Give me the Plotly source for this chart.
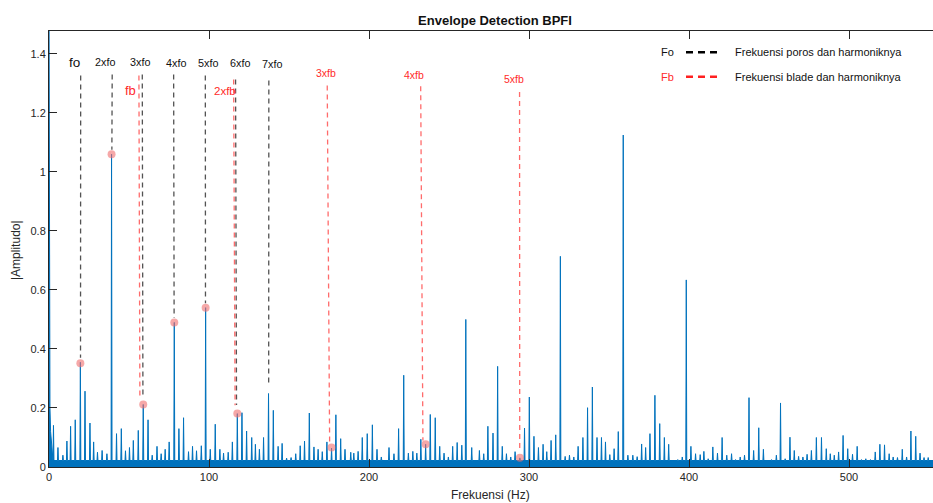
import plotly.graph_objects as go

# ---------------- data ----------------
low_freq = [0.0, 0.3, 0.6, 1.0, 1.5, 2.0]
low_amp = [1.6, 0.47, 0.2, 0.12, 0.08, 0.05]
noise_floor = 0.022

peak_freq = [2.8, 5.6, 8.7, 11.2, 13.5, 16.4, 19.6, 22.5, 25.6, 27.9, 30.3, 33.2, 36.2,
             39.1, 42.2, 45.2, 47.8, 50.3, 52.7, 55.8, 58.9, 61.9, 64.5, 67.5, 70.1, 72.6,
             75.1, 78.3, 81.2, 84.1, 87.2, 89.7, 92.2, 95.2, 97.9, 100.8, 103.9, 106.8,
             109.1, 112.0, 114.6, 117.7, 120.6, 123.5, 126.7, 129.0, 131.5, 134.1, 137.2,
             140.2, 143.2, 145.7, 148.5, 151.3, 154.2, 157.0, 159.7, 162.7, 165.6, 168.2,
             170.8, 173.7, 176.6, 179.3, 182.3, 185.0, 188.6, 190.5, 193.2, 195.8, 198.9,
             202.1, 205.0, 207.7, 212.5, 215.6, 218.5, 221.7, 224.6, 227.4, 229.9, 232.4,
             235.4, 238.3, 241.4, 244.2, 246.9, 249.6, 252.3, 255.1, 258.0, 260.5, 264.2,
             269.0, 271.7, 274.3, 277.5, 280.4, 283.3, 285.9, 288.6, 291.3, 294.3, 297.2,
             300.2, 303.1, 305.9, 308.8, 311.1, 313.8, 316.7, 319.6, 322.6, 325.3, 328.0,
             330.7, 333.7, 336.6, 339.6, 342.5, 345.3, 347.8, 350.5, 353.2, 355.8, 358.9,
             361.8, 364.9, 367.6, 370.4, 372.9, 375.6, 378.7, 381.7, 384.6, 387.3, 390.1,
             393.0, 395.8, 398.3, 401.2, 404.1, 407.0, 409.3, 412.0, 414.9, 417.8, 420.7,
             423.6, 426.6, 429.1, 432.0, 434.7, 437.5, 440.4, 443.6, 446.5, 449.2, 451.6,
             454.6, 457.2, 460.1, 463.1, 465.8, 468.5, 471.2, 473.8, 476.5, 479.6, 482.8,
             485.8, 488.3, 490.8, 493.5, 496.3, 499.2, 502.2, 505.1, 507.8, 510.5, 513.4,
             516.4, 519.3, 522.2, 525.1, 527.6, 530.3, 533.3, 536.0, 538.7, 541.7, 544.4,
             546.9, 549.5]
peak_amp = [0.141, 0.066, 0.04, 0.088, 0.138, 0.16, 0.355, 0.257, 0.149, 0.085, 0.05, 0.056, 0.045,
            1.06, 0.113, 0.13, 0.055, 0.066, 0.09, 0.124, 0.212, 0.16, 0.04, 0.07, 0.045, 0.06,
            0.085, 0.49, 0.13, 0.167, 0.052, 0.07, 0.055, 0.072, 0.54, 0.06, 0.145, 0.06,
            0.047, 0.05, 0.085, 0.181, 0.184, 0.122, 0.1, 0.077, 0.06, 0.1, 0.249,
            0.192, 0.07, 0.08, 0.03, 0.032, 0.045, 0.072, 0.088, 0.183, 0.068, 0.06,
            0.052, 0.085, 0.064, 0.177, 0.096, 0.06, 0.05, 0.047, 0.053, 0.1, 0.113,
            0.143, 0.06, 0.034, 0.066, 0.045, 0.13, 0.311, 0.047, 0.053, 0.047, 0.094,
            0.077, 0.178, 0.167, 0.07, 0.047, 0.034, 0.07, 0.083, 0.074, 0.5, 0.066,
            0.056, 0.045, 0.138, 0.115, 0.341, 0.07, 0.045, 0.034, 0.052, 0.031, 0.132,
            0.237, 0.104, 0.066, 0.077, 0.052, 0.09, 0.109, 0.714, 0.036, 0.04, 0.034,
            0.07, 0.1, 0.201, 0.271, 0.1, 0.1, 0.085, 0.042, 0.062, 0.12, 1.125,
            0.04, 0.04, 0.035, 0.078, 0.066, 0.113, 0.243, 0.147, 0.1, 0.077, 0.022,
            0.025, 0.034, 0.634, 0.07, 0.045, 0.042, 0.053, 0.028, 0.068, 0.047, 0.1,
            0.04, 0.045, 0.025, 0.034, 0.04, 0.235, 0.056, 0.133, 0.06, 0.022, 0.025,
            0.04, 0.217, 0.028, 0.101, 0.056, 0.036, 0.034, 0.043, 0.056, 0.1, 0.1,
            0.062, 0.045, 0.04, 0.051, 0.107, 0.062, 0.043, 0.07, 0.025, 0.028, 0.025,
            0.051, 0.077, 0.075, 0.045, 0.034, 0.032, 0.06, 0.034, 0.122, 0.104, 0.047,
            0.032, 0.032]

marker_freq = [19.6, 39.1, 58.9, 78.3, 97.9, 117.7, 176.6, 235.4, 294.3]
marker_amp = [0.352, 1.06, 0.212, 0.49, 0.54, 0.181, 0.066, 0.077, 0.031]

# harmonic pointer lines: (x_top, y_top) -> (x_bottom, y_bottom)
fo_labels = ["fo", "2xfo", "3xfo", "4xfo", "5xfo", "6xfo", "7xfo"]
fo_label_x = [15.8, 34.9, 57.1, 79.1, 99.3, 119.1, 139.3]
fo_label_y = [1.372, 1.372, 1.372, 1.369, 1.369, 1.369, 1.366]
fo_x0 = [19.8, 39.5, 58.3, 77.9, 97.7, 116.6, 137.4]
fo_y0 = [1.327, 1.33, 1.33, 1.33, 1.327, 1.313, 1.31]
fo_x1 = [19.7, 39.3, 58.7, 78.2, 97.8, 117.2, 137.3]
fo_y1 = [0.37, 1.075, 0.232, 0.505, 0.555, 0.21, 0.283]

fb_labels = ["fb", "2xfb", "3xfb", "4xfb", "5xfb"]
fb_label_x = [51.2, 109.8, 172.9, 227.9, 290.4]
fb_label_y = [1.277, 1.274, 1.335, 1.327, 1.316]
fb_x0 = [56.2, 115.4, 173.9, 232.3, 294.1]
fb_y0 = [1.327, 1.313, 1.293, 1.29, 1.271]
fb_x1 = [56.8, 116.3, 175.4, 233.7, 294.2]
fb_y1 = [0.229, 0.209, 0.079, 0.09, 0.057]

x_max = 552.5
y_max = 1.4775

# ---------------- figure ----------------
FONT = "Liberation Sans, Arial, Helvetica, sans-serif"
BLUE = "#0072BD"
BLACK_DASH = "rgba(40,40,40,0.8)"
RED_DASH = "rgba(255,70,70,0.8)"
RED_TXT = "#ff2a2a"

xs = list(low_freq)
ys = list(low_amp)
for f, a in zip(peak_freq, peak_amp):
    xs += [f - 0.3, f, f + 0.3]
    ys += [noise_floor, a, noise_floor]
xs.append(x_max)
ys.append(noise_floor)

fig = go.Figure()
fig.add_trace(go.Scatter(x=xs, y=ys, mode="lines", line=dict(color=BLUE, width=1),
                         fill="tozeroy", fillcolor=BLUE, showlegend=False, hoverinfo="skip"))

def seg_trace(x0, y0, x1, y1, color):
    lx, ly = [], []
    for a, b, c, d in zip(x0, y0, x1, y1):
        lx += [a, c, None]
        ly += [b, d, None]
    return go.Scatter(x=lx, y=ly, mode="lines", showlegend=False, hoverinfo="skip",
                      line=dict(color=color, width=1.3, dash="5px,4px"))

fig.add_trace(seg_trace(fo_x0, fo_y0, fo_x1, fo_y1, BLACK_DASH))
fig.add_trace(seg_trace(fb_x0, fb_y0, fb_x1, fb_y1, RED_DASH))

fig.add_trace(go.Scatter(x=marker_freq, y=marker_amp, mode="markers", showlegend=False,
                         marker=dict(color="rgba(240,110,110,0.6)", size=8, line=dict(width=0)),
                         hoverinfo="skip"))

annotations = []
for t, x, y in zip(fo_labels, fo_label_x, fo_label_y):
    annotations.append(dict(x=x, y=y, xref="x", yref="y", text=t, showarrow=False,
                            xanchor="center", yanchor="middle",
                            font=dict(family=FONT, size=13.5 if t == "fo" else 10.8, color="#111")))
for t, x, y in zip(fb_labels, fb_label_x, fb_label_y):
    sz = 13 if t == "fb" else (11.5 if t == "2xfb" else 10.5)
    annotations.append(dict(x=x, y=y, xref="x", yref="y", text=t, showarrow=False,
                            xanchor="center", yanchor="middle",
                            font=dict(family=FONT, size=sz, color=RED_TXT)))

W, H = 933, 503
L, R, T, B = 49, 0, 31, 36
PW, PH = W - L - R, H - T - B

def px(xp):
    return (xp - L) / PW

def py(yp):
    return (H - B - yp) / PH

# legend (drawn manually, no box)
leg = [("Fo", "#111", "black", 52.3, "Frekuensi poros dan harmoniknya"),
       ("Fb", RED_TXT, "#ff2020", 76.7, "Frekuensi blade dan harmoniknya")]
shapes = []
for key, kc, lc, yy, desc in leg:
    annotations.append(dict(x=px(667), y=py(yy), xref="paper", yref="paper", text=key,
                            showarrow=False, xanchor="center", yanchor="middle",
                            font=dict(family=FONT, size=11, color=kc)))
    annotations.append(dict(x=px(733), y=py(yy), xref="paper", yref="paper", text=desc,
                            showarrow=False, xanchor="left", yanchor="middle",
                            font=dict(family=FONT, size=11, color="#111")))
    shapes.append(dict(type="line", xref="paper", yref="paper", x0=px(686), x1=px(718),
                       y0=py(yy), y1=py(yy), line=dict(color=lc, width=2.4, dash="7px,5px")))

# axis titles
annotations.append(dict(x=px(490), y=py(495), xref="paper", yref="paper", text="Frekuensi (Hz)",
                        showarrow=False, xanchor="center", yanchor="middle",
                        font=dict(family=FONT, size=12, color="#262626")))
annotations.append(dict(x=px(16), y=py(250), xref="paper", yref="paper", text="|Amplitudo|",
                        showarrow=False, textangle=-90, xanchor="center", yanchor="middle",
                        font=dict(family=FONT, size=12, color="#262626")))

fig.update_layout(
    width=W, height=H,
    margin=dict(l=L, r=R, t=T, b=B, pad=0),
    paper_bgcolor="white", plot_bgcolor="white",
    font=dict(family=FONT, size=11, color="#262626"),
    title=dict(text="<b>Envelope Detection BPFI</b>", x=px(495), xref="paper", xanchor="center",
               y=1 - 20.0 / H, yref="container", yanchor="middle",
               font=dict(family=FONT, size=13, color="#111")),
    annotations=annotations,
    shapes=shapes,
    showlegend=False,
    xaxis=dict(range=[0, x_max], tickmode="linear", tick0=0, dtick=100, ticks="inside",
               ticklen=8, tickcolor="#262626", showline=True, linecolor="#262626", linewidth=1,
               mirror="ticks", showgrid=False, zeroline=False,
               tickfont=dict(family=FONT, size=11, color="#262626")),
    yaxis=dict(range=[0, y_max], tickmode="linear", tick0=0, dtick=0.2, ticks="inside",
               ticklen=8, tickcolor="#262626", showline=True, linecolor="#262626", linewidth=1,
               mirror=False, showgrid=False, zeroline=False,
               tickfont=dict(family=FONT, size=11, color="#262626")),
)

fig.write_html("out.html")
